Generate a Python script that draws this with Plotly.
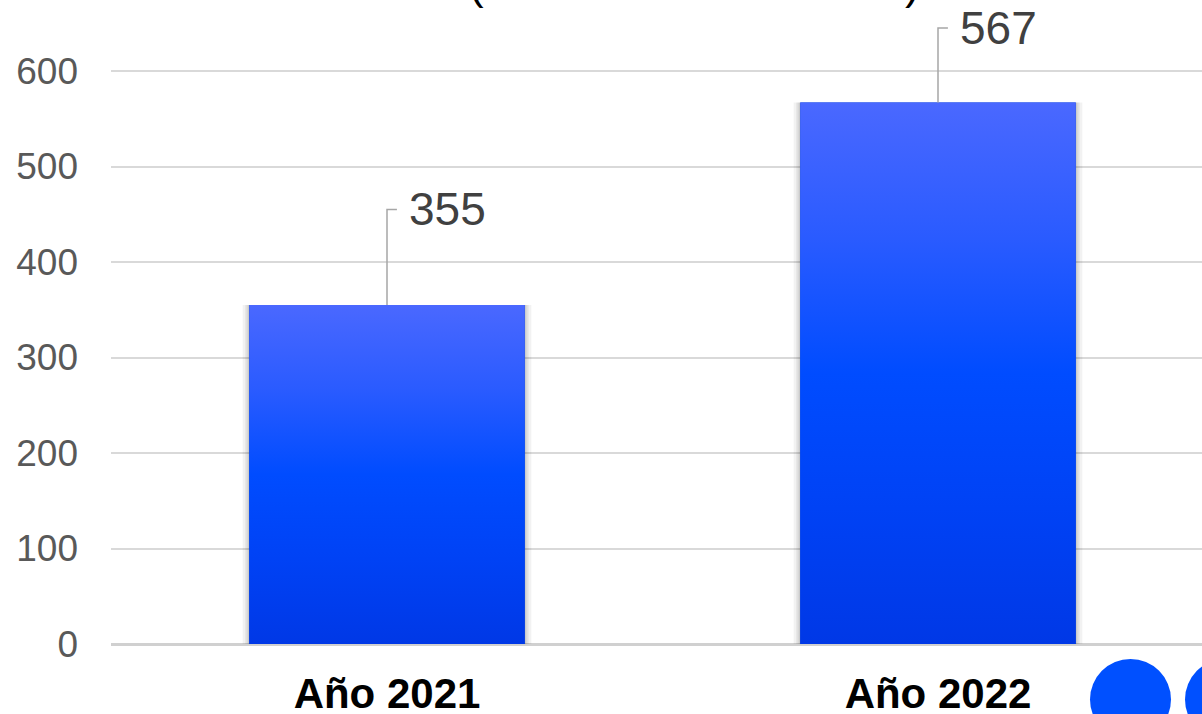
import plotly.graph_objects as go

# ---- data ----
categories = ["Año 2021", "Año 2022"]
values = [355, 567]
y_ticks = [0, 100, 200, 300, 400, 500, 600]

# ---- layout helpers (positions / styles) ----
label_offsets = [100, 78]     # leader line length in data units
bar_half = 0.25
W, H = 1202, 714
ML, MR, MT, MB = 111, 0, 0, 70
plot_w = W - ML - MR
plot_h = H - MT - MB

grad_scale = [[0.0, "#0038E6"], [0.25, "#0042F5"], [0.5, "#004CFF"],
              [0.75, "#2A5BFF"], [1.0, "#4A68FF"]]

fig = go.Figure()
xs = list(range(len(categories)))

# base bars (solid) through the library's scales
fig.add_trace(go.Bar(x=xs, y=values, width=2 * bar_half,
                     marker=dict(color="#004CFF", line=dict(width=0)),
                     hoverinfo="skip", showlegend=False))

# soft shadow + gradient overlays computed from the data
for i, v in zip(xs, values):
    for d, a in [(0.012, 0.05), (0.007, 0.07), (0.003, 0.09)]:
        fig.add_trace(go.Scatter(
            x=[i - bar_half - d, i + bar_half + d, i + bar_half + d, i - bar_half - d, i - bar_half - d],
            y=[-4, -4, v, v, -4], mode="lines", line=dict(width=0),
            fill="toself", fillcolor=f"rgba(0,0,0,{a})",
            hoverinfo="skip", showlegend=False))
for i, v in zip(xs, values):
    fig.add_trace(go.Scatter(
        x=[i - bar_half, i + bar_half, i + bar_half, i - bar_half, i - bar_half],
        y=[0, 0, v, v, 0], mode="lines", line=dict(width=0),
        fill="toself",
        fillgradient=dict(type="vertical", colorscale=grad_scale, start=0, stop=v),
        hoverinfo="skip", showlegend=False))

# leader lines and labels
for i, v, off in zip(xs, values, label_offsets):
    fig.add_trace(go.Scatter(
        x=[i, i, i + 0.018], y=[v, v + off, v + off], mode="lines",
        line=dict(color="#A6A6A6", width=1.5),
        hoverinfo="skip", showlegend=False))
    fig.add_annotation(x=i + 0.036, y=v + off, text=str(v), showarrow=False,
                       xanchor="left", yanchor="middle",
                       font=dict(family="Liberation Sans, Arial", size=46, color="#404040"))

# partially visible title parentheses (cut off at top)
for px, t in [(476, "("), (912, ")")]:
    fig.add_annotation(xref="paper", yref="paper", x=(px - ML) / plot_w,
                       y=(plot_h - 10) / plot_h, text=t, showarrow=False,
                       xanchor="center", yanchor="bottom",
                       font=dict(family="Liberation Sans, Arial", size=44, color="#000000"))

# decorative circles bottom-right
for x0, x1 in [(1090, 1171), (1185, 1266)]:
    fig.add_shape(type="circle", xref="paper", yref="paper",
                  x0=(x0 - ML) / plot_w, x1=(x1 - ML) / plot_w,
                  y0=(plot_h - 740) / plot_h, y1=(plot_h - 659) / plot_h,
                  fillcolor="#0050FF", line=dict(width=0), layer="above")

y_top = plot_h / (573 / 600)
fig.update_layout(
    width=W, height=H,
    margin=dict(l=ML, r=MR, t=MT, b=MB, pad=0, autoexpand=False),
    paper_bgcolor="white", plot_bgcolor="white",
    font=dict(family="Liberation Sans, Arial"),
    xaxis=dict(range=[-(387 - ML) / 551, (W - 387) / 551], tickvals=xs, ticktext=categories,
               showgrid=False, zeroline=False, showline=False, ticks="", automargin=False,
               tickfont=dict(size=42, color="#000000", family="Liberation Sans, Arial", weight="bold"),
               ticklabelstandoff=21, fixedrange=True),
    yaxis=dict(range=[0, y_top], tickvals=y_ticks, showgrid=True, gridcolor="#D9D9D9", gridwidth=1.5,
               zeroline=True, zerolinecolor="#D0D0D0", zerolinewidth=2.5, showline=False, ticks="",
               automargin=False,
               tickfont=dict(size=37, color="#595959", family="Liberation Sans, Arial"),
               ticklabelstandoff=32, fixedrange=True),
    showlegend=False,
)

fig.write_html("out.html", config={"displayModeBar": False},
               post_script="document.body.style.margin='0px';document.body.style.overflow='hidden';")
